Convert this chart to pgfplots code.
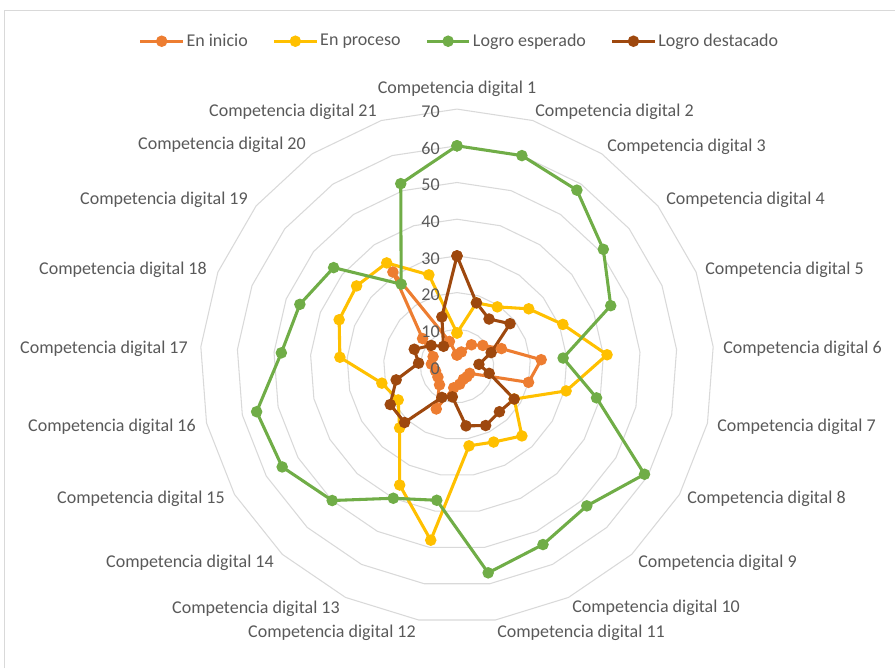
\documentclass[border=0pt]{standalone}
\usepackage{pgfplots}
\pgfplotsset{compat=1.18}
\usepackage{pgfplotstable}
\usepackage{fontspec}
\setmainfont{Carlito}
\definecolor{cinicio}{HTML}{ED7D31}
\definecolor{cproceso}{HTML}{FFC000}
\definecolor{cesperado}{HTML}{70AD47}
\definecolor{cdestacado}{HTML}{9E480E}
\definecolor{labelgray}{HTML}{595959}
\definecolor{ringgray}{HTML}{D9D9D9}

% k = index of the competence (0 = Competencia digital 1), last row closes the polygon
\pgfplotstableread{
k  inicio proceso esperado destacado
0  3      9       60       30
1  4      18      60       18
2  7      19.5    58       15.5
3  9      25      51       18.5
4  13     31      45       10
5  23     41      29       6
6  20     30.5    39       9
7  4      18      59       18
8  4      26      52       17
9  4      23      54       18
10 5      22      57       16.5
11 6      48      37       8.5
12 13     36      40       9.5
13 7      23      50       21
14 6      18.5    55       21
15 6      21      56       17
16 7      32      48       10.5
17 7      34.5    46       12.5
18 12     35      43       9
19 31     34      27       6.5
20 7      26      52       14
21 3      9       60       30
}\radar

\newcommand{\lf}{\fontsize{13.5}{16}\selectfont}

\begin{document}
\begin{tikzpicture}
\useasboundingbox (0,0) rectangle (671.25pt,501pt);
% chart frame (top and left edges)
\draw[ringgray, line width=0.75pt] (3pt,0pt) -- (3pt,493pt) -- (671.25pt,493pt);
% polygonal grid rings
\begin{scope}[shift={(342.75pt,226.5pt)}, x=2.7525pt, y=2.7525pt]
\foreach \r in {10,20,...,70} {
  \draw[ringgray, line width=0.8pt] (90:\r) \foreach \k in {1,...,20} { -- ({90-\k*360/21}:\r) } -- cycle;
}
\end{scope}
\begin{axis}[
  at={(0,0)}, anchor=south west,
  scale only axis, width=671.25pt, height=501pt,
  xmin=-124.52, xmax=119.35, ymin=-82.29, ymax=99.73,
  hide axis, clip=false,
  legend columns=4,
  legend style={at={(axis cs:0.68,88.5)}, anchor=center, draw=none, fill=none,
    font=\lf, text=labelgray, nodes={inner sep=1.5pt},
    /tikz/every even column/.append style={column sep=17pt}},
  legend image code/.code={\draw[#1, mark repeat=2, mark phase=2] plot coordinates {(0pt,0pt) (16pt,0pt) (32pt,0pt)};},
  every axis plot/.append style={line width=2.3pt, mark=*, mark size=3.1pt, mark options={solid}},
]
\addplot[cinicio] table[x expr={\thisrow{inicio}*cos(90-\thisrow{k}*360/21)}, y expr={\thisrow{inicio}*sin(90-\thisrow{k}*360/21)}] {\radar};
\addlegendentry{En inicio}
\addplot[cproceso] table[x expr={\thisrow{proceso}*cos(90-\thisrow{k}*360/21)}, y expr={\thisrow{proceso}*sin(90-\thisrow{k}*360/21)}] {\radar};
\addlegendentry{En proceso}
\addplot[cesperado] table[x expr={\thisrow{esperado}*cos(90-\thisrow{k}*360/21)}, y expr={\thisrow{esperado}*sin(90-\thisrow{k}*360/21)}] {\radar};
\addlegendentry{Logro esperado}
\addplot[cdestacado] table[x expr={\thisrow{destacado}*cos(90-\thisrow{k}*360/21)}, y expr={\thisrow{destacado}*sin(90-\thisrow{k}*360/21)}] {\radar};
\addlegendentry{Logro destacado}
\end{axis}
% radial tick labels and category labels, placed in pixel units
\begin{scope}[x=0.75pt, y=0.75pt, every node/.style={inner sep=0pt, font=\lf, text=labelgray}]
\foreach \r in {0,10,...,70} {
  \node[anchor=east] at (440, {299.5+3.67*\r}) {\r};
}
\node[anchor=center] at (457,579) {Competencia digital 1};
\node[anchor=west] at (535,556) {Competencia digital 2};
\node[anchor=west] at (607,521) {Competencia digital 3};
\node[anchor=west] at (666,468) {Competencia digital 4};
\node[anchor=west] at (705,398) {Competencia digital 5};
\node[anchor=west] at (723,319) {Competencia digital 6};
\node[anchor=west] at (717,241) {Competencia digital 7};
\node[anchor=west] at (687,169) {Competencia digital 8};
\node[anchor=west] at (638,105) {Competencia digital 9};
\node[anchor=west] at (572,60) {Competencia digital 10};
\node[anchor=west] at (497,35) {Competencia digital 11};
\node[anchor=east] at (416,35) {Competencia digital 12};
\node[anchor=east] at (340,59) {Competencia digital 13};
\node[anchor=east] at (274,105) {Competencia digital 14};
\node[anchor=east] at (225,169) {Competencia digital 15};
\node[anchor=east] at (196,241) {Competencia digital 16};
\node[anchor=east] at (188,319) {Competencia digital 17};
\node[anchor=east] at (207,398) {Competencia digital 18};
\node[anchor=east] at (248,468) {Competencia digital 19};
\node[anchor=east] at (306,523) {Competencia digital 20};
\node[anchor=east] at (377,556) {Competencia digital 21};
\end{scope}
\end{tikzpicture}
\end{document}
